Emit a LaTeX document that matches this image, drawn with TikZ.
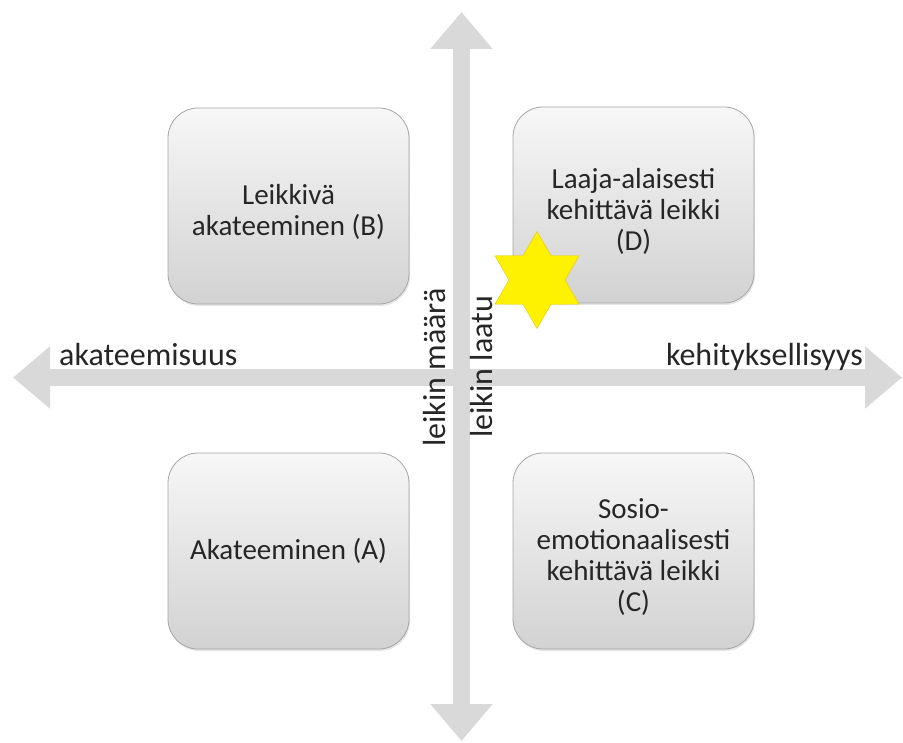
\documentclass[tikz,border=0pt]{standalone}
\usepackage{fontspec}
\setmainfont{Carlito}
\usetikzlibrary{arrows.meta, shapes.geometric, shadows}

\definecolor{axisgray}{HTML}{D9D9D9}
\definecolor{boxline}{HTML}{A6A6A6}
\definecolor{boxtop}{HTML}{F7F7F7}
\definecolor{boxbottom}{HTML}{D2D2D2}
\definecolor{textgray}{HTML}{262626}
\definecolor{starfill}{HTML}{FFF200}
\definecolor{starline}{HTML}{E6C800}

\newcommand{\qstrut}{\rule{0pt}{33pt}}

\tikzset{
  quadrant/.style={draw=boxline, line width=0.8pt, rounded corners=30pt,
    top color=boxtop, bottom color=boxbottom,
    minimum width=241pt, minimum height=196pt, align=center,
    text=textgray, font=\fontsize{29}{31}\selectfont,
    drop shadow={shadow xshift=1pt, shadow yshift=-2pt, opacity=0.2}},
  axis/.style={draw=axisgray, line width=17pt,
    {Triangle[width=60pt,length=37pt]}-{Triangle[width=60pt,length=37pt]}},
  axislabel/.style={text=textgray, font=\fontsize{32}{38}\selectfont, inner sep=0pt},
}

\begin{document}
\begin{tikzpicture}[x=1pt, y=-1pt]
  \useasboundingbox (0,0) rectangle (903,743);
  % axes
  \coordinate (west) at (13,377.5);
  \coordinate (east) at (902,377.5);
  \coordinate (north) at (461.5,12);
  \coordinate (south) at (461.5,741);
  \draw[axis] (west) -- (east);
  \draw[axis] (south) -- (north);
  % quadrants
  \node[quadrant] (B) at (288.5,206) {\qstrut Leikkivä\\akateeminen (B)};
  \node[quadrant] (D) at (633.5,205) {\qstrut Laaja-alaisesti\\kehittävä leikki\\(D)};
  \node[quadrant] (A) at (288.5,551) {Akateeminen (A)};
  \node[quadrant] (C) at (633.5,551) {\qstrut Sosio-\\emotionaalisesti\\kehittävä leikki\\(C)};
  % axis labels
  \node[axislabel, anchor=base west] (acad) at (59,366) {akateemisuus};
  \node[axislabel, anchor=base east] (devel) at (863,366) {kehityksellisyys};
  \node[axislabel, rotate=90, anchor=base west] (amount) at (445,447) {leikin määrä};
  \node[axislabel, rotate=90, anchor=base west] (quality) at (492,438) {leikin laatu};
  % star
  \node[star, star points=6, star point ratio=1.732, minimum size=97pt,
    inner sep=0pt, fill=starfill, draw=starline] (mark) at (537,280) {};
\end{tikzpicture}
\end{document}
